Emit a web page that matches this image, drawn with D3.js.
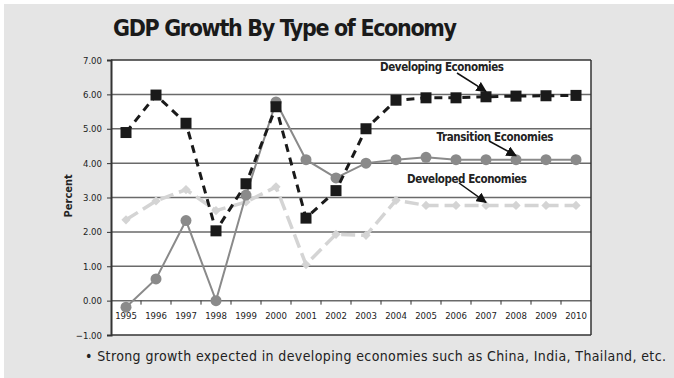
<!DOCTYPE html>
<html>
<head>
<meta charset="utf-8">
<script src="https://cdn.jsdelivr.net/npm/d3@7"></script>
<style>
  html, body { margin: 0; padding: 0; background: #fff; }
  svg { display: block; font-family: "DejaVu Sans Condensed", "DejaVu Sans", sans-serif; font-stretch: condensed; }
</style>
</head>
<body>
<svg id="chart" width="674" height="378"></svg>
<script>
// chart data
var years = ["1995", "1996", "1997", "1998", "1999", "2000", "2001", "2002",
  "2003", "2004", "2005", "2006", "2007", "2008", "2009", "2010"];
var developing = [4.89, 5.98, 5.16, 2.03, 3.40, 5.64, 2.40, 3.20,
  5.00, 5.83, 5.90, 5.90, 5.93, 5.95, 5.96, 5.97];
var transition = [-0.19, 0.63, 2.33, 0.00, 3.07, 5.78, 4.10, 3.57,
  4.00, 4.10, 4.17, 4.10, 4.10, 4.10, 4.10, 4.10];
var developed = [2.35, 2.90, 3.23, 2.62, 2.87, 3.31, 1.05, 1.93,
  1.90, 2.92, 2.77, 2.77, 2.77, 2.77, 2.77, 2.77];
var yTicks = [-1, 0, 1, 2, 3, 4, 5, 6, 7];

// labels with the point each arrow points at
var notes = [
  { text: "Developing Economies", x: 442, y: 71, width: 124, year: "2007", value: 6.0, dy: -3, from: [457, 73] },
  { text: "Transition Economies", x: 495, y: 141, width: 117, year: "2008", value: 4.1, dy: -4, from: [489, 141] },
  { text: "Developed Economies", x: 467, y: 183, width: 120, year: "2007", value: 2.77, dy: -3, from: [459, 183] }
];

var svg = d3.select("#chart");
var plotLeft = 111, plotRight = 591, plotTop = 60, plotBottom = 335;

svg.append("rect")
  .attr("x", 4).attr("y", 4)
  .attr("width", 670).attr("height", 374)
  .attr("fill", "#e5e5e5");

var x = d3.scaleBand().domain(years).range([plotLeft, plotRight]);
var y = d3.scaleLinear().domain([-1, 7]).range([plotBottom, plotTop]);

function cx(d, i) { return x(years[i]) + x.bandwidth() / 2; }

// plot area
svg.append("rect")
  .attr("x", plotLeft).attr("y", plotTop)
  .attr("width", plotRight - plotLeft).attr("height", plotBottom - plotTop)
  .attr("fill", "#fff");

svg.append("g")
  .selectAll("line")
  .data(yTicks)
  .enter()
  .append("line")
  .attr("x1", plotLeft).attr("x2", plotRight)
  .attr("y1", function (d) { return y(d); })
  .attr("y2", function (d) { return y(d); })
  .style("stroke", function (d) { return d === -1 || d === 7 ? "#333" : "#6a6a6a"; })
  .style("stroke-width", 1.5);

svg.append("line")
  .attr("x1", plotRight).attr("x2", plotRight)
  .attr("y1", plotTop).attr("y2", plotBottom)
  .style("stroke", "#333").style("stroke-width", 1.5);

// y axis
var yAxis = svg.append("g")
  .attr("transform", "translate(" + plotLeft + ",0)")
  .call(d3.axisLeft(y).tickValues(yTicks).tickFormat(d3.format(".2f")).tickSize(4).tickPadding(5));
yAxis.attr("font-size", null).attr("font-family", null);
yAxis.select(".domain").style("stroke", "#333").style("stroke-width", 2);
yAxis.selectAll(".tick line").style("stroke", "#333");
yAxis.selectAll("text")
  .style("font-size", "9.5px")
  .style("fill", "#222");

// x axis sits on the zero line
var xAxis = svg.append("g")
  .attr("transform", "translate(0," + y(0) + ")");
xAxis.selectAll("line")
  .data(years.slice(1))
  .enter()
  .append("line")
  .attr("x1", function (d) { return x(d); })
  .attr("x2", function (d) { return x(d); })
  .attr("y1", 0).attr("y2", 4)
  .style("stroke", "#333");
xAxis.selectAll("text")
  .data(years)
  .enter()
  .append("text")
  .attr("x", function (d) { return x(d) + x.bandwidth() / 2; })
  .attr("y", 18)
  .attr("text-anchor", "middle")
  .style("font-size", "9.5px")
  .style("fill", "#222")
  .text(function (d) { return d; });

svg.append("text")
  .attr("transform", "translate(72," + (y(3.05)) + ") rotate(-90)")
  .attr("text-anchor", "middle")
  .style("font-size", "11px")
  .style("font-weight", "bold")
  .style("fill", "#222")
  .text("Percent");

// series lines
var line = d3.line()
  .x(cx)
  .y(function (d) { return y(d); });

svg.append("path")
  .attr("d", line(developed))
  .style("fill", "none")
  .style("stroke", "#d4d4d4")
  .style("stroke-width", 3.5)
  .style("stroke-dasharray", "14,6");

svg.append("g")
  .selectAll("path")
  .data(developed)
  .enter()
  .append("path")
  .attr("d", d3.symbol().type(d3.symbolDiamond2).size(55))
  .attr("transform", function (d, i) { return "translate(" + cx(d, i) + "," + y(d) + ")"; })
  .style("fill", "#d4d4d4");

svg.append("path")
  .attr("d", line(transition))
  .style("fill", "none")
  .style("stroke", "#8a8a8a")
  .style("stroke-width", 2);

svg.append("g")
  .selectAll("circle")
  .data(transition)
  .enter()
  .append("circle")
  .attr("cx", cx)
  .attr("cy", function (d) { return y(d); })
  .attr("r", 5.5)
  .style("fill", "#8a8a8a");

svg.append("path")
  .attr("d", line(developing))
  .style("fill", "none")
  .style("stroke", "#1a1a1a")
  .style("stroke-width", 3)
  .style("stroke-dasharray", "8,6");

svg.append("g")
  .selectAll("rect")
  .data(developing)
  .enter()
  .append("rect")
  .attr("x", function (d, i) { return cx(d, i) - 5.5; })
  .attr("y", function (d) { return y(d) - 5.5; })
  .attr("width", 11).attr("height", 11)
  .style("fill", "#1a1a1a");

// annotations
svg.append("defs")
  .append("marker")
  .attr("id", "arrow")
  .attr("viewBox", "0 0 10 10")
  .attr("refX", 9).attr("refY", 5)
  .attr("markerWidth", 7).attr("markerHeight", 7)
  .attr("orient", "auto")
  .append("path")
  .attr("d", "M0,0 L10,5 L0,10 z")
  .style("fill", "#111");

notes.forEach(function (n) {
  var tx = x(n.year) + x.bandwidth() / 2;
  var ty = y(n.value) + n.dy;
  svg.append("line")
    .attr("x1", n.from[0]).attr("y1", n.from[1])
    .attr("x2", tx).attr("y2", ty)
    .attr("marker-end", "url(#arrow)")
    .style("stroke", "#111")
    .style("stroke-width", 1.5);
  svg.append("text")
    .attr("x", n.x).attr("y", n.y)
    .attr("text-anchor", "middle")
    .attr("textLength", n.width)
    .style("font-size", "11.5px")
    .style("font-weight", "bold")
    .style("fill", "#222")
    .text(n.text);
});

// title and note
svg.append("text")
  .attr("x", 113).attr("y", 36)
  .attr("textLength", 344)
  .style("font-size", "23px")
  .style("font-weight", "bold")
  .style("fill", "#1a1a1a")
  .text("GDP Growth By Type of Economy");

svg.append("text")
  .attr("x", 85).attr("y", 361)
  .attr("textLength", 581)
  .style("font-size", "14px")
  .style("fill", "#222")
  .text("\u2022 Strong growth expected in developing economies such as China, India, Thailand, etc.");
</script>
</body>
</html>
